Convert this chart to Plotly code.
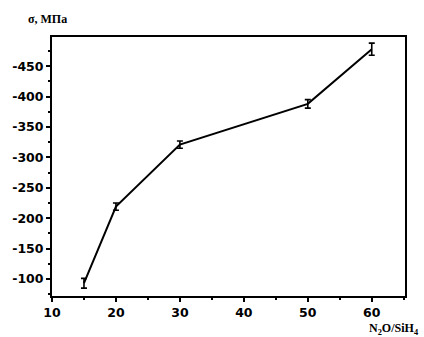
import plotly.graph_objects as go

ratio = [15, 20, 30, 50, 60]
stress = [-93, -219, -321, -388, -478]
err = [8, 6, 6, 7, 10]

y_ticks = [-450, -400, -350, -300, -250, -200, -150, -100]
y_ticktext = ["-450", "-400", "-350", "-300", "-250", "-200", "-150", "-100"]
x_ticks = [10, 20, 30, 40, 50, 60]

fig = go.Figure()
fig.add_trace(go.Scatter(
    x=ratio, y=stress, mode="lines",
    line=dict(color="black", width=2),
    error_y=dict(type="data", array=err, color="black", thickness=1.6, width=3),
    showlegend=False,
))

tickfont = dict(family="DejaVu Sans", size=12.5, color="black", weight="bold")
fig.update_layout(
    width=424, height=337,
    margin=dict(l=43, r=19, t=37, b=41),
    paper_bgcolor="white", plot_bgcolor="white",
    xaxis=dict(range=[10, 65.2], tickvals=x_ticks, ticks="outside", ticklen=4,
               tickwidth=1.5, tickcolor="black", showline=True, linecolor="black",
               linewidth=2, mirror=True, showgrid=False, zeroline=False,
               tickfont=tickfont,
               minor=dict(dtick=5, tick0=10, ticks="outside", ticklen=2, tickcolor="black", showgrid=False)),
    yaxis=dict(range=[-72, -498], tickvals=y_ticks, ticktext=y_ticktext, ticks="outside",
               ticklen=4, tickwidth=1.5, tickcolor="black", showline=True, linecolor="black",
               linewidth=2, mirror=True, showgrid=False, zeroline=False,
               tickfont=tickfont,
               minor=dict(dtick=25, tick0=-500, ticks="outside", ticklen=2, tickcolor="black", showgrid=False)),
    annotations=[
        dict(text="σ, МПа", xref="paper", yref="paper", x=-0.075, y=1.068,
             xanchor="left", yanchor="middle", showarrow=False,
             font=dict(family="Liberation Serif", size=12, color="black", weight="bold")),
        dict(text="N<sub>2</sub>O/SiH<sub>4</sub>", xref="paper", yref="paper", x=1.045, y=-0.126,
             xanchor="right", yanchor="middle", showarrow=False,
             font=dict(family="Liberation Serif", size=12, color="black", weight="bold")),
    ],
)

fig.write_html("out.html")
